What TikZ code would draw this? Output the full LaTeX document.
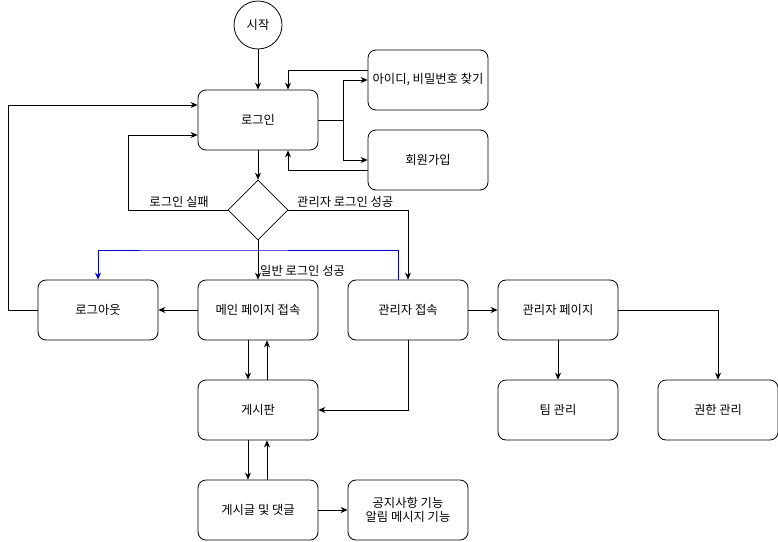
\documentclass[tikz,border=0pt]{standalone}
\usepackage{xcolor}
\usepackage{fontspec}
\setmainfont{Noto Sans CJK KR}
\usepackage{tikz}
\usetikzlibrary{shapes.geometric, arrows.meta, positioning, calc}
\definecolor{linkblue}{HTML}{0000CC}

\begin{document}
\begin{tikzpicture}[x=1pt, y=-1pt, font=\fontsize{12.3}{14.5}\selectfont, >={Stealth[length=7pt,width=6pt]},
    box/.style={rectangle, rounded corners=8pt, draw=black, fill=white, line width=0.8pt,
      minimum width=120pt, minimum height=60pt, align=center, inner sep=0pt},
    term/.style={circle, draw=black, line width=0.8pt, minimum size=48pt, inner sep=0pt},
    cond/.style={diamond, draw=black, line width=0.6pt, minimum width=60pt, minimum height=60pt, inner sep=0pt},
    flow/.style={->, line width=0.8pt, black},
    lbl/.style={inner sep=1pt},
  ]
    \useasboundingbox (0,0) rectangle (778,541);

    \node[term] (start) at (258,25) {시작};

    \node[box] (login)  at (258,120) {로그인};
    \node[box] (findid) at (428,80)  {아이디, 비밀번호 찾기};
    \node[box] (join)   at (428,160) {회원가입};

    \node[cond] (check) at (258,210) {};

    \node[box] (logout) at (98,310)  {로그아웃};
    \node[box] (mainpg) at (258,310) {메인 페이지 접속};
    \node[box] (admin)  at (408,310) {관리자 접속};
    \node[box] (adminpg) at (558,310) {관리자 페이지};

    \node[box] (board)  at (258,410) {게시판};
    \node[box] (team)   at (558,410) {팀 관리};
    \node[box] (perm)   at (718,410) {권한 관리};

    \node[box] (post)   at (258,510) {게시글 및 댓글};
    \node[box] (notice) at (408,510) {공지사항 기능\\알림 메시지 기능};

    % top part
    \draw[flow] (start) -- (login);
    \draw[flow] (login.east) -- ++(25,0) |- (findid.west);
    \draw[flow] (login.east) -- ++(25,0) |- (join.west);
    \draw[flow] ([yshift=10pt]findid.west) -| ([xshift=30pt]login.north);
    \draw[flow] ([yshift=-10pt]join.west) -| ([xshift=30pt]login.south);
    \draw[flow] (login) -- (check);

    % decision
    \draw[flow] (check.west) -- (128,210) |- ([yshift=-15pt]login.west);
    \node[lbl, anchor=south east] at (210,209) {로그인 실패};
    \draw[flow] (check.east) -| (admin.north);
    \node[lbl, anchor=south west] at (296,209) {관리자 로그인 성공};
    \draw[flow] (check.south) -- (mainpg.north);
    \node[lbl, anchor=south west] at (259,278) {일반 로그인 성공};

    % logout
    \draw[->, line width=0.8pt, linkblue] ([xshift=-10pt]admin.north) |- (180,250) -| (logout.north);
    \draw[flow] (mainpg) -- (logout);
    \draw[flow] (logout.west) -- (8,310) |- ([yshift=15pt]login.west);

    % admin
    \draw[flow] (admin) -- (adminpg);
    \draw[flow] (adminpg) -- (team);
    \draw[flow] (adminpg.east) -| (perm.north);
    \draw[flow] (admin.south) |- (board.east);

    % board
    \draw[flow] ([xshift=-10pt]mainpg.south) -- ([xshift=-10pt]board.north);
    \draw[flow] ([xshift=9pt]board.north) -- ([xshift=9pt]mainpg.south);
    \draw[flow] ([xshift=-10pt]board.south) -- ([xshift=-10pt]post.north);
    \draw[flow] ([xshift=9pt]post.north) -- ([xshift=9pt]board.south);
    \draw[flow] (post) -- (notice);
  \end{tikzpicture}
\end{document}
